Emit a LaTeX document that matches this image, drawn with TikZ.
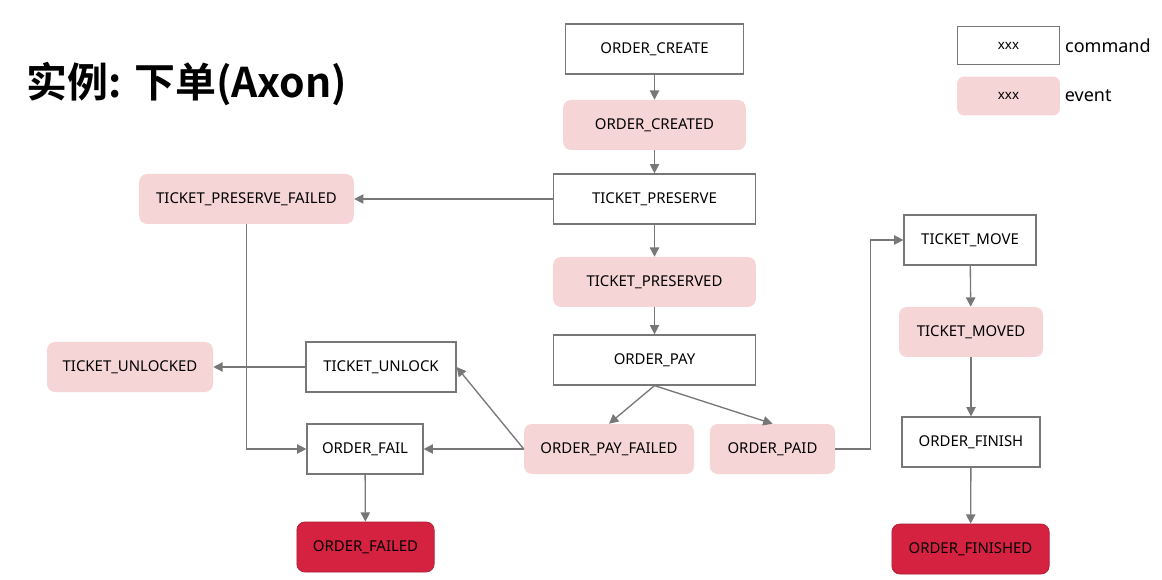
\documentclass[tikz,border=0pt]{standalone}
\usepackage{fontspec}
\setmainfont{Noto Sans}
\newfontfamily\cjk{Noto Sans CJK SC}[BoldFont = {Noto Sans CJK SC Bold}]
\usetikzlibrary{arrows.meta}

\definecolor{evtpink}{HTML}{F6D5D6}
\definecolor{endred}{HTML}{D52241}
\definecolor{linegray}{HTML}{777777}

\tikzset{
    cmd/.style = {draw = linegray, line width = 0.9pt, fill = white,
        minimum height = 37.5pt, inner sep = 0pt},
    evt/.style = {fill = evtpink, rounded corners = 6pt,
        minimum height = 37.5pt, inner sep = 0pt},
    fin/.style = {fill = endred, draw = endred!80!black, line width = 0.5pt,
        rounded corners = 6pt, minimum height = 37.5pt, inner sep = 0pt},
    flow/.style = {draw = linegray, line width = 1pt,
        -{Triangle[width = 7pt, length = 7pt]}}
}

\begin{document}
\begin{tikzpicture}[x = 0.75pt, y = -0.75pt, font = \fontsize{11.2}{13}\selectfont]
        \useasboundingbox (0,0) rectangle (1162,580);

        \node [font = \cjk\bfseries\fontsize{30.7}{34}\selectfont, anchor = west]
        (title) at (22,84) {实例: 下单(Axon)};

        % legend
        \node [cmd, minimum width = 77pt, minimum height = 29pt,
            font = \fontsize{10}{12}\selectfont] (lcmd) at (1008.5,45.5) {xxx};
        \node [anchor = west, font = \fontsize{13.5}{15}\selectfont]
        (lcmdtext) at (lcmd.east) {command};
        \node [evt, minimum width = 77pt, minimum height = 29pt,
            rounded corners = 5pt, font = \fontsize{10}{12}\selectfont]
        (levt) at (1008.5,96) {xxx};
        \node [anchor = west, font = \fontsize{13.5}{15}\selectfont]
        (levttext) at (levt.east) {event};

        % main flow
        \node [cmd, minimum width = 134pt] (oc) at (654.5,49) {ORDER\_CREATE};
        \node [evt, minimum width = 137pt] (ocd) at (654.5,125) {ORDER\_CREATED};
        \node [cmd, minimum width = 152pt] (tp) at (654.5,199) {TICKET\_PRESERVE};
        \node [evt, minimum width = 161pt] (tpf) at (246.5,199) {TICKET\_PRESERVE\_FAILED};
        \node [evt, minimum width = 152pt] (tpd) at (654.5,282) {TICKET\_PRESERVED};
        \node [cmd, minimum width = 152pt] (op) at (654.5,360) {ORDER\_PAY};
        \node [cmd, minimum width = 112.5pt] (tu) at (381,367) {TICKET\_UNLOCK};
        \node [evt, minimum width = 124.5pt] (tud) at (130,367) {TICKET\_UNLOCKED};
        \node [cmd, minimum width = 87pt] (of) at (365,449) {ORDER\_FAIL};
        \node [evt, minimum width = 127.5pt] (opf) at (609,449) {ORDER\_PAY\_FAILED};
        \node [evt, minimum width = 94pt] (opd) at (772.5,449) {ORDER\_PAID};
        \node [fin, minimum width = 103pt] (ofd) at (365.5,547) {ORDER\_FAILED};

        % ticket move branch
        \node [cmd, minimum width = 99pt] (tm) at (970,240) {TICKET\_MOVE};
        \node [evt, minimum width = 108pt] (tmd) at (971,332) {TICKET\_MOVED};
        \node [cmd, minimum width = 103.5pt] (ofi) at (971,442) {ORDER\_FINISH};
        \node [fin, minimum width = 118pt] (ofid) at (970.5,549) {ORDER\_FINISHED};

        \draw [flow] (oc) -- (ocd);
        \draw [flow] (ocd) -- (tp);
        \draw [flow] (tp) -- (tpf);
        \draw [flow] (tp) -- (tpd);
        \draw [flow] (tpd) -- (op);
        \draw [flow] (op.south) -- (opf.north);
        \draw [flow] (op.south) -- (opd.north);
        \draw [flow] (opf.west) -- (of.east);
        \draw [flow] (opf.west) -- (tu.east);
        \draw [flow] (tu) -- (tud);
        \draw [flow] (tpf.south) |- (of.west);
        \draw [flow] (of) -- (ofd);

        \draw [flow] (opd.east) -- ++(35,0) |- (tm.west);
        \draw [flow] (tm) -- (tmd);
        \draw [flow] (tmd) -- (ofi);
        \draw [flow] (ofi) -- (ofid);
    \end{tikzpicture}
\end{document}
